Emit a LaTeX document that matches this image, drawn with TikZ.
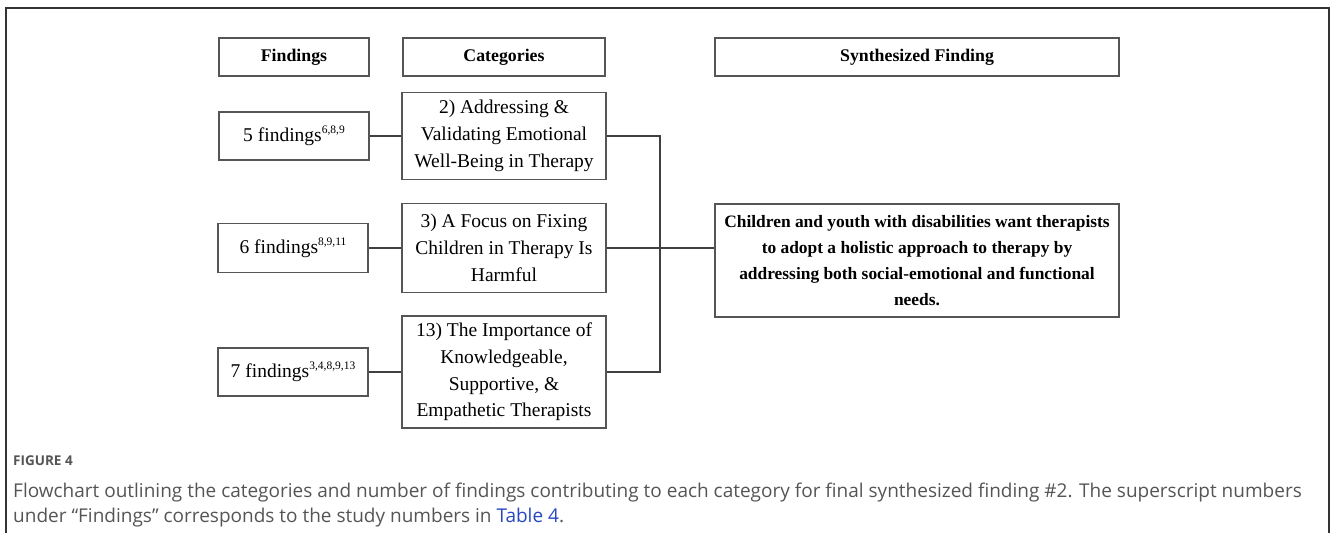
\documentclass[tikz,border=0pt]{standalone}
\usepackage{fontspec}
\setmainfont{Liberation Serif}
\newfontfamily\boxfont{Liberation Serif}
\newfontfamily\capfont{Open Sans}
\definecolor{boxline}{HTML}{555555}
\definecolor{frameline}{HTML}{333333}
\definecolor{captext}{HTML}{555555}
\definecolor{linkblue}{HTML}{2747C0}
% small raised study numbers after a findings count
\newcommand\studynums[1]{\raisebox{0.42em}{\fontsize{11.5}{12}\selectfont #1}}
\tikzset{
  box/.style={draw=boxline, line width=1.3pt, rectangle, inner sep=2pt, align=center,
    font=\boxfont\fontsize{19.5}{26.8}\selectfont, text=black},
  head/.style={box, font=\boxfont\fontsize{17.8}{22}\selectfont\bfseries},
  synbox/.style={box, font=\boxfont\fontsize{17.4}{26}\selectfont\bfseries},
  link/.style={draw=black!75, line width=1.1pt},
}
\begin{document}
\begin{tikzpicture}[x=1pt, y=-1pt]
  \useasboundingbox (0,0) rectangle (1332,533);
  % outer frame, open at the bottom
  \draw[frameline, line width=1.5pt] (6,533) -- (6,8) -- (1329,8) -- (1329,533);

  % column headers
  \node[head, minimum width=150, minimum height=38] (hf) at (294,57) {Findings};
  \node[head, minimum width=202, minimum height=38] (hc) at (504,57) {Categories};
  \node[head, minimum width=404, minimum height=38] (hs) at (917,57) {Synthesized Finding};

  % findings
  \node[box, minimum width=150, minimum height=48] (f5) at (294,136) {5 findings\studynums{6,8,9}};
  \node[box, minimum width=150, minimum height=49] (f6) at (293,248) {6 findings\studynums{8,9,11}};
  \node[box, minimum width=150, minimum height=48] (f7) at (293,372) {7 findings\studynums{3,4,8,9,13}};

  % categories
  \node[box, minimum width=204, minimum height=87] (c2) at (504,136)
    {2) Addressing \&\\Validating Emotional\\Well-Being in Therapy};
  \node[box, minimum width=204, minimum height=89] (c3) at (504,248)
    {3) A Focus on Fixing\\Children in Therapy Is\\Harmful};
  \node[box, minimum width=204, minimum height=112] (c13) at (504,372)
    {13) The Importance of\\Knowledgeable,\\Supportive, \&\\Empathetic Therapists};

  % synthesized finding
  \node[synbox, minimum width=404, minimum height=113] (syn) at (917,260.5)
    {Children and youth with disabilities want therapists\\to adopt a holistic approach to therapy by\\addressing both social-emotional and functional\\needs.};

  % connectors
  \coordinate (join) at (660,248);
  \draw[link] (f5) -- (c2);
  \draw[link] (f6) -- (c3);
  \draw[link] (f7) -- (c13);
  \draw[link] (c2.east) -- (join |- c2.east) -- (join |- c13.east) -- (c13.east);
  \draw[link] (c3.east) -- (syn.west |- c3.east);

  % caption
  \node[anchor=base west, inner sep=0, text=captext, font=\capfont\fontsize{13.5}{16}\selectfont\bfseries] (cap) at (13,465) {FIGURE 4};
  \node[anchor=base west, inner sep=0, text=captext, font=\capfont\fontsize{19}{25}\selectfont] (cl1) at (13,497)
    {Flowchart outlining the categories and number of findings contributing to each category for final synthesized finding \#2. The superscript numbers};
  \node[anchor=base west, inner sep=0, text=captext, font=\capfont\fontsize{19}{25}\selectfont] (cl2) at (13,522)
    {under “Findings” corresponds to the study numbers in \textcolor{linkblue}{Table 4}.};
\end{tikzpicture}
\end{document}
